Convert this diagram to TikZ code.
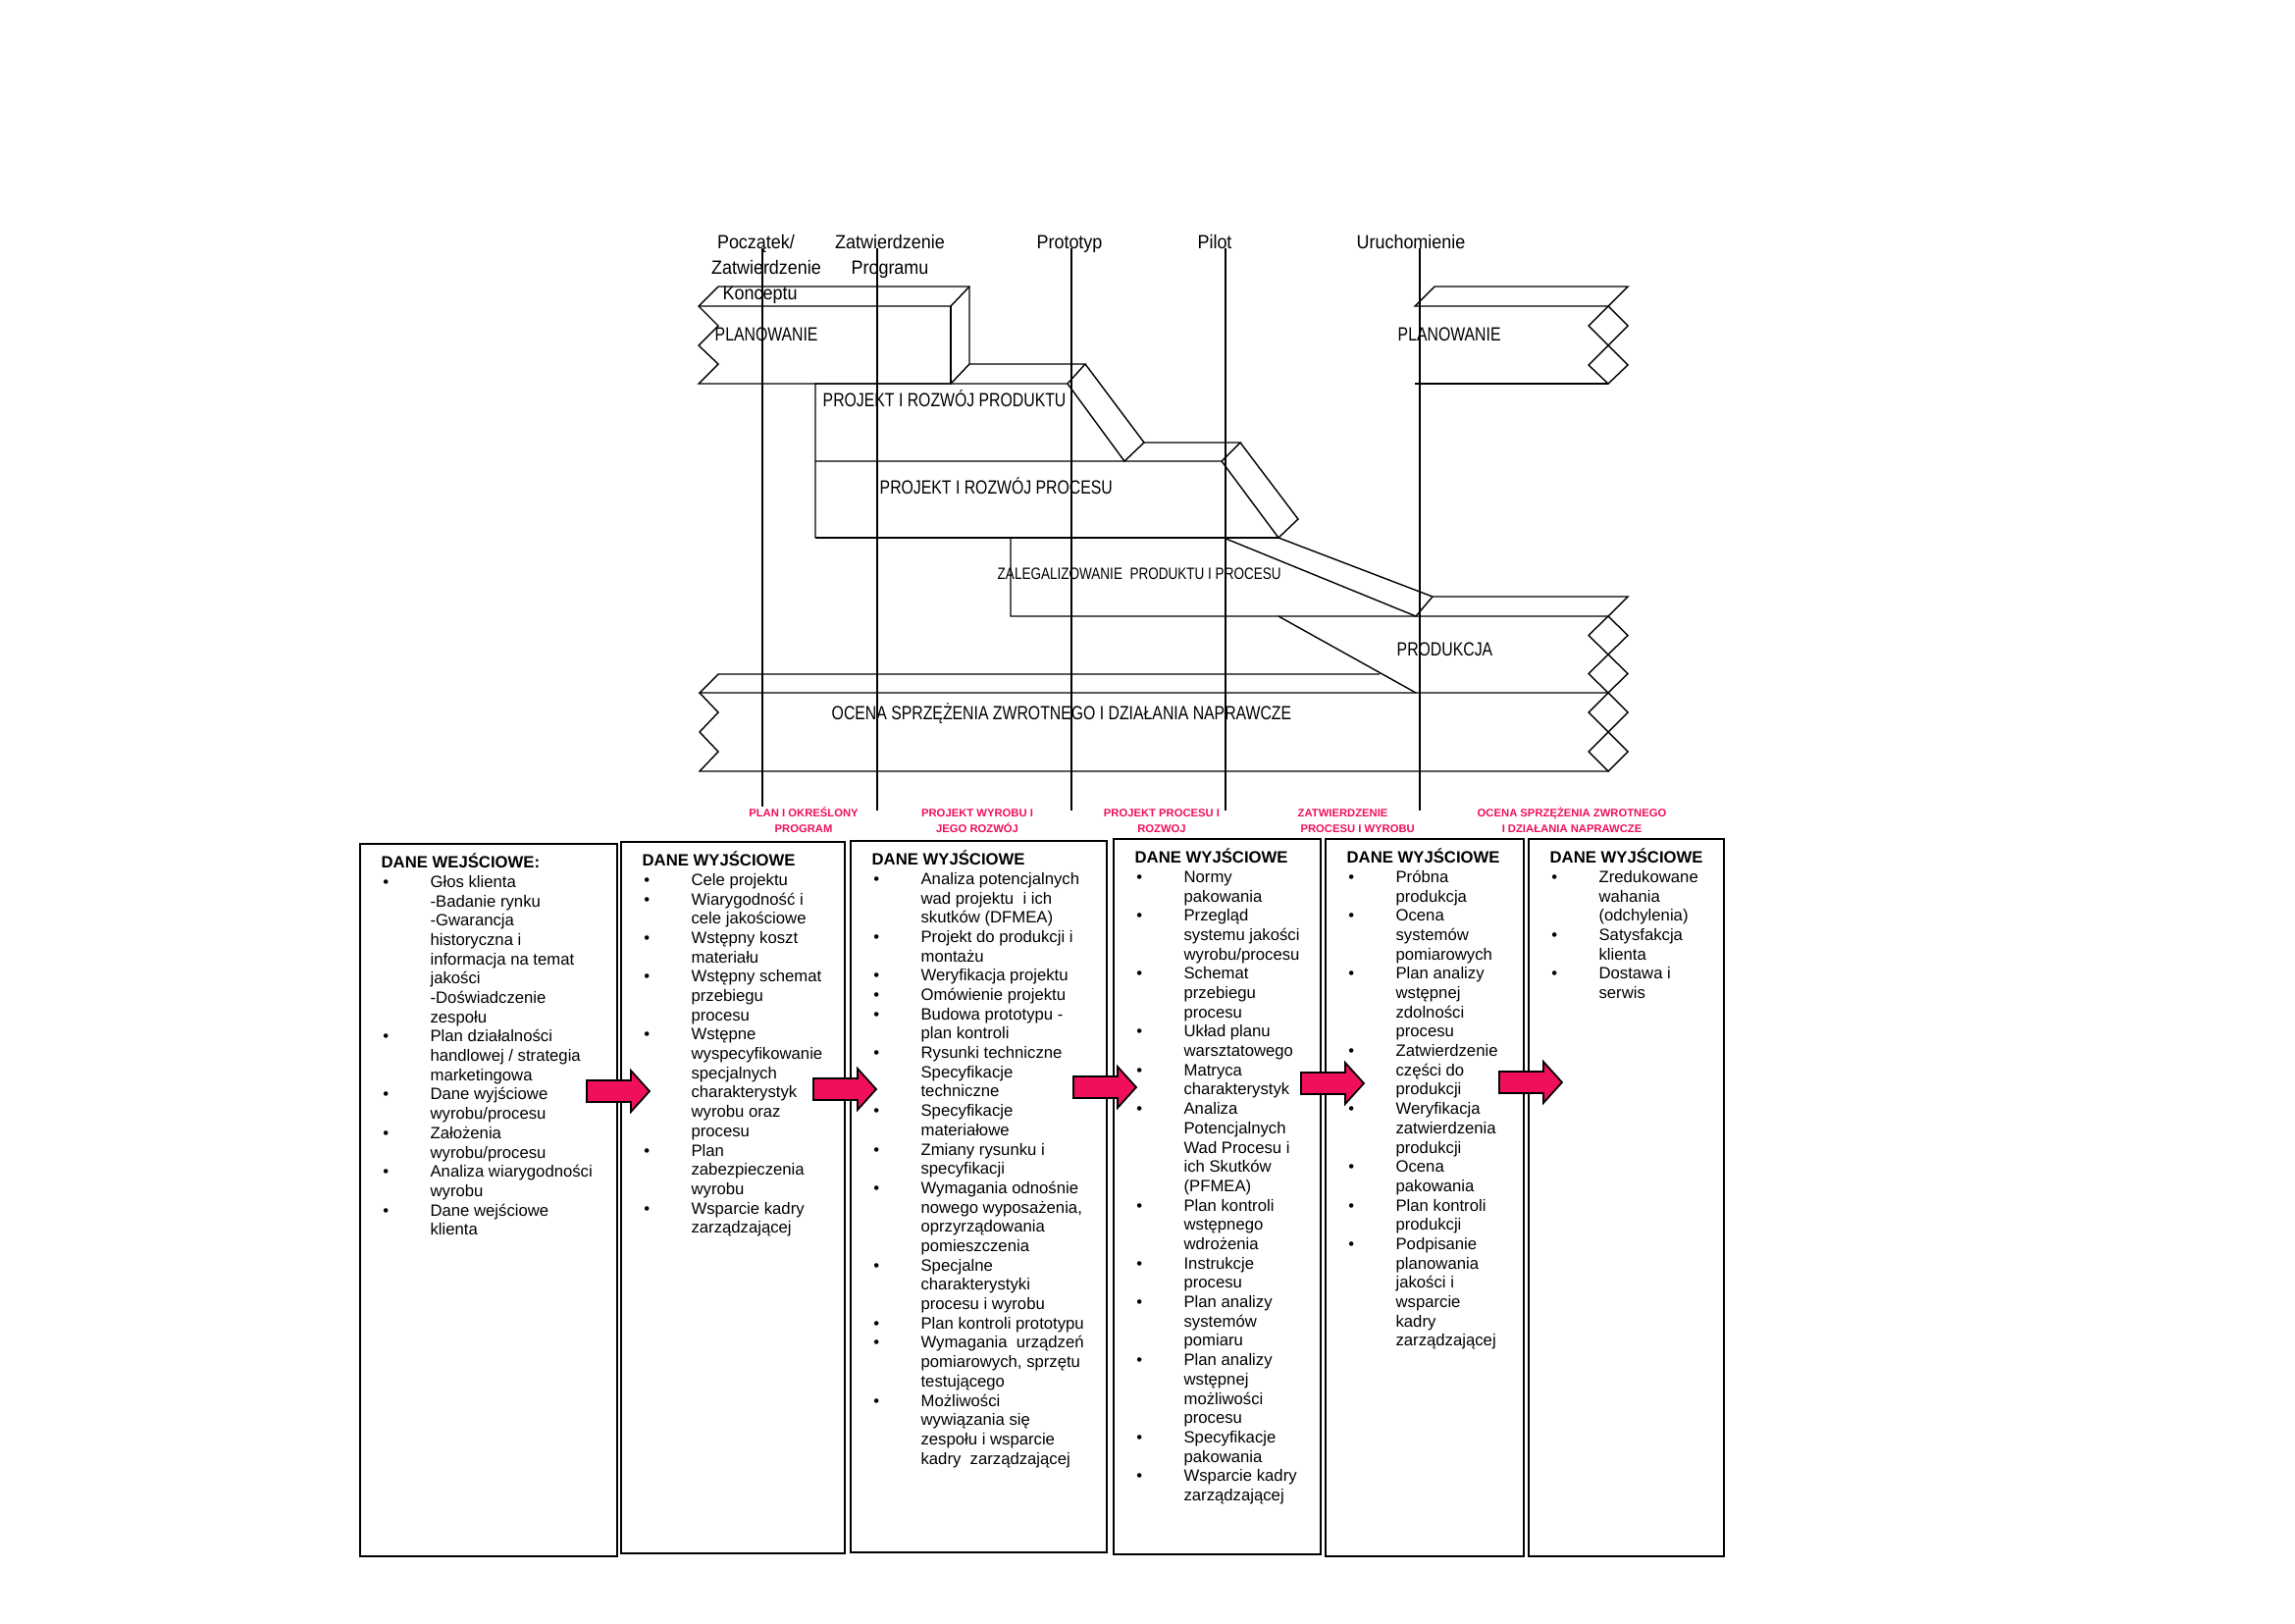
\documentclass[tikz,border=0pt]{standalone}
\usepackage{fontspec}
\setmainfont{Liberation Sans}
\newfontfamily\stagefont[FakeStretch=0.81]{Liberation Sans}
\newfontfamily\gatefont[FakeStretch=0.92]{Liberation Sans}
\usetikzlibrary{positioning,fit}
\definecolor{apqppink}{RGB}{240,16,90}
\newcommand{\bul}[1]{\makebox[14.2pt][l]{\hspace{0.5pt}\textbullet}#1}
\newcommand{\cnt}[1]{\hspace*{14.2pt}#1}
\newcommand{\firstln}[1]{\rule{0pt}{#1}}

\begin{document}
\begin{tikzpicture}[x=0.01cm,y=-0.01cm,line width=0.4pt]
\useasboundingbox (0,0) rectangle (2339,1654);
\tikzset{gate/.style={font=\gatefont\fontsize{5.55}{7.4}\selectfont,align=center,anchor=north,inner sep=0pt}}
\tikzset{stage/.style={font=\stagefont\fontsize{5.55}{7}\selectfont,anchor=base west,inner sep=0pt}}
\tikzset{phase/.style={font=\bfseries\fontsize{3.2}{4.55}\selectfont,text=apqppink,align=center,anchor=north,inner sep=0pt}}
\tikzset{outbox/.style={draw,line width=0.6pt,inner sep=0pt}}
\tikzset{outtext/.style={font=\fontsize{4.75}{5.6}\selectfont,align=left,anchor=north west,inner sep=0pt}}
\tikzset{pinkarrow/.style={draw,line width=0.5pt,fill=apqppink}}

% milestones (first baseline at y=253)
\node[gate] (g1) at (781,232) {\firstln{6pt}Początek/\hspace*{6pt}\\Zatwierdzenie\\Konceptu\hspace*{3.6pt}};
\node[gate] (g2) at (907,232) {\firstln{6pt}Zatwierdzenie\\Programu};
\node[gate] (g3) at (1090,232) {\firstln{6pt}Prototyp};
\node[gate] (g4) at (1238,232) {\firstln{6pt}Pilot};
\node[gate] (g5) at (1438,232) {\firstln{6pt}Uruchomienie};
\foreach \n/\x/\yb in {1/777/822,2/894/826,3/1092/826,4/1249/826,5/1447/826}{
  \coordinate (t\n) at (\x,253);
  \coordinate (b\n) at (\x,\yb);
}

% planowanie
\draw (732,292) -- (988,292) -- (988,371) -- (969,391) -- (712,391) -- (732,371) -- (712,352) -- (732,332) -- (712,312) -- cycle;
\draw (712,312) -- (969,312) -- (988,292);
\draw (969,312) -- (969,391);
\draw (1442,312) -- (1462,292) -- (1659,292) -- (1639,312) -- cycle;
\draw (1442,391) -- (1639,391);
\draw (1639,312) -- (1659,332) -- (1639,352) -- (1659,372) -- (1639,391) -- (1619,372) -- (1639,352) -- (1619,332) -- cycle;

% projekt produktu i procesu
\draw (831,548) -- (831,391) -- (1088,391) -- (1106,371) -- (988,371);
\draw (1088,391) -- (1146,470) -- (1166,451) -- (1106,371);
\draw (831,470) -- (1245,470) -- (1264,451) -- (1166,451);
\draw (1245,470) -- (1303,548) -- (1323,529) -- (1264,451);
\draw (831,548) -- (1303,548);

% zalegalizowanie, produkcja
\draw (1030,548) -- (1030,628) -- (1639,628) -- (1659,608) -- (1460,608) -- (1303,548);
\draw (1247,548) -- (1443,628) -- (1460,608);
\draw (1303,628) -- (1443,706);

% ocena
\draw (1406,687) -- (732,687) -- (713,706) -- (1639,706);
\draw (713,706) -- (732,726) -- (713,746) -- (732,766) -- (713,786) -- (1639,786);
\foreach \a/\b in {628/667,667/706,706/746,746/786}
  \draw (1639,\a) -- (1659,{(\a+\b)/2}) -- (1639,\b) -- (1619,{(\a+\b)/2}) -- cycle;

\node[stage] (plan1) at (728,347) {PLANOWANIE};
\node[stage] (plan2) at (1424,347) {PLANOWANIE};
\node[stage] (prod) at (838,414) {PROJEKT I ROZWÓJ PRODUKTU};
\node[stage] (proc) at (896,503) {PROJEKT I ROZWÓJ PROCESU};
\node[stage,font=\stagefont\fontsize{4.75}{6}\selectfont] (legal) at (1016,590) {ZALEGALIZOWANIE\ \ PRODUKTU I PROCESU};
\node[stage] (mfg) at (1423,668) {PRODUKCJA};
\node[stage] (fb) at (847,733) {OCENA SPRZĘŻENIA ZWROTNEGO I DZIAŁANIA NAPRAWCZE};

\foreach \n in {1,...,5}
  \draw (t\n) -- (b\n);

% fazy (first baseline at y=832)
\node[phase] (ph1) at (819,818) {\firstln{4pt}PLAN I OKREŚLONY\\PROGRAM};
\node[phase] (ph2) at (996,818) {\firstln{4pt}PROJEKT WYROBU I\\JEGO ROZWÓJ};
\node[phase] (ph3) at (1184,818) {\firstln{4pt}PROJEKT PROCESU I\\ROZWOJ};
\node[phase,align=left,anchor=north west] (ph4) at (1322,818) {\firstln{4pt}ZATWIERDZENIE\\\hspace*{0.8pt}PROCESU I WYROBU};
\node[phase] (ph5) at (1602,818) {\firstln{4pt}OCENA SPRZĘŻENIA ZWROTNEGO\\I DZIAŁANIA NAPRAWCZE};

% dane
\node[outbox,fit={(367,860) (629,1586)}] (box1) {};
\node[outbox,fit={(633,858) (861,1583)}] (box2) {};
\node[outbox,fit={(867,857) (1128,1582)}] (box3) {};
\node[outbox,fit={(1135,855) (1346,1584)}] (box4) {};
\node[outbox,fit={(1351,855) (1553,1586)}] (box5) {};
\node[outbox,fit={(1558,855) (1757,1586)}] (box6) {};

\node[outtext] (in1) at ([shift={(22,7.4)}]box1.north west) {\firstln{5pt}\textbf{DANE WEJŚCIOWE:}\\
\bul{Głos klienta}\\
\cnt{-Badanie rynku}\\
\cnt{-Gwarancja}\\
\cnt{historyczna i}\\
\cnt{informacja na temat}\\
\cnt{jakości}\\
\cnt{-Doświadczenie}\\
\cnt{zespołu}\\
\bul{Plan działalności}\\
\cnt{handlowej / strategia}\\
\cnt{marketingowa}\\
\bul{Dane wyjściowe}\\
\cnt{wyrobu/procesu}\\
\bul{Założenia}\\
\cnt{wyrobu/procesu}\\
\bul{Analiza wiarygodności}\\
\cnt{wyrobu}\\
\bul{Dane wejściowe}\\
\cnt{klienta}};

\node[outtext] (out2) at ([shift={(22,7.4)}]box2.north west) {\firstln{5pt}\textbf{DANE WYJŚCIOWE}\\
\bul{Cele projektu}\\
\bul{Wiarygodność i}\\
\cnt{cele jakościowe}\\
\bul{Wstępny koszt}\\
\cnt{materiału}\\
\bul{Wstępny schemat}\\
\cnt{przebiegu}\\
\cnt{procesu}\\
\bul{Wstępne}\\
\cnt{wyspecyfikowanie}\\
\cnt{specjalnych}\\
\cnt{charakterystyk}\\
\cnt{wyrobu oraz}\\
\cnt{procesu}\\
\bul{Plan}\\
\cnt{zabezpieczenia}\\
\cnt{wyrobu}\\
\bul{Wsparcie kadry}\\
\cnt{zarządzającej}};

\node[outtext] (out3) at ([shift={(22,7.4)}]box3.north west) {\firstln{5pt}\textbf{DANE WYJŚCIOWE}\\
\bul{Analiza potencjalnych}\\
\cnt{wad projektu\ \ i ich}\\
\cnt{skutków (DFMEA)}\\
\bul{Projekt do produkcji i}\\
\cnt{montażu}\\
\bul{Weryfikacja projektu}\\
\bul{Omówienie projektu}\\
\bul{Budowa prototypu -}\\
\cnt{plan kontroli}\\
\bul{Rysunki techniczne}\\
\cnt{Specyfikacje}\\
\cnt{techniczne}\\
\bul{Specyfikacje}\\
\cnt{materiałowe}\\
\bul{Zmiany rysunku i}\\
\cnt{specyfikacji}\\
\bul{Wymagania odnośnie}\\
\cnt{nowego wyposażenia,}\\
\cnt{oprzyrządowania}\\
\cnt{pomieszczenia}\\
\bul{Specjalne}\\
\cnt{charakterystyki}\\
\cnt{procesu i wyrobu}\\
\bul{Plan kontroli prototypu}\\
\bul{Wymagania\ \ urządzeń}\\
\cnt{pomiarowych, sprzętu}\\
\cnt{testującego}\\
\bul{Możliwości}\\
\cnt{wywiązania się}\\
\cnt{zespołu i wsparcie}\\
\cnt{kadry\ \ zarządzającej}};

\node[outtext] (out4) at ([shift={(22,7.4)}]box4.north west) {\firstln{5pt}\textbf{DANE WYJŚCIOWE}\\
\bul{Normy}\\
\cnt{pakowania}\\
\bul{Przegląd}\\
\cnt{systemu jakości}\\
\cnt{wyrobu/procesu}\\
\bul{Schemat}\\
\cnt{przebiegu}\\
\cnt{procesu}\\
\bul{Układ planu}\\
\cnt{warsztatowego}\\
\bul{Matryca}\\
\cnt{charakterystyk}\\
\bul{Analiza}\\
\cnt{Potencjalnych}\\
\cnt{Wad Procesu i}\\
\cnt{ich Skutków}\\
\cnt{(PFMEA)}\\
\bul{Plan kontroli}\\
\cnt{wstępnego}\\
\cnt{wdrożenia}\\
\bul{Instrukcje}\\
\cnt{procesu}\\
\bul{Plan analizy}\\
\cnt{systemów}\\
\cnt{pomiaru}\\
\bul{Plan analizy}\\
\cnt{wstępnej}\\
\cnt{możliwości}\\
\cnt{procesu}\\
\bul{Specyfikacje}\\
\cnt{pakowania}\\
\bul{Wsparcie kadry}\\
\cnt{zarządzającej}};

\node[outtext] (out5) at ([shift={(22,7.4)}]box5.north west) {\firstln{5pt}\textbf{DANE WYJŚCIOWE}\\
\bul{Próbna}\\
\cnt{produkcja}\\
\bul{Ocena}\\
\cnt{systemów}\\
\cnt{pomiarowych}\\
\bul{Plan analizy}\\
\cnt{wstępnej}\\
\cnt{zdolności}\\
\cnt{procesu}\\
\bul{Zatwierdzenie}\\
\cnt{części do}\\
\cnt{produkcji}\\
\bul{Weryfikacja}\\
\cnt{zatwierdzenia}\\
\cnt{produkcji}\\
\bul{Ocena}\\
\cnt{pakowania}\\
\bul{Plan kontroli}\\
\cnt{produkcji}\\
\bul{Podpisanie}\\
\cnt{planowania}\\
\cnt{jakości i}\\
\cnt{wsparcie}\\
\cnt{kadry}\\
\cnt{zarządzającej}};

\node[outtext] (out6) at ([shift={(22,7.4)}]box6.north west) {\firstln{5pt}\textbf{DANE WYJŚCIOWE}\\
\bul{Zredukowane}\\
\cnt{wahania}\\
\cnt{(odchylenia)}\\
\bul{Satysfakcja}\\
\cnt{klienta}\\
\bul{Dostawa i}\\
\cnt{serwis}};

% strzalki
\foreach \ax/\ay in {598/1112,829/1110,1094/1108,1326/1104,1528/1103}
  \draw[pinkarrow] (\ax,\ay-11) -- ++(45,0) -- ++(0,-10) -- ++(19,21) -- ++(-19,21) -- ++(0,-10) -- ++(-45,0) -- cycle;
\end{tikzpicture}
\end{document}
